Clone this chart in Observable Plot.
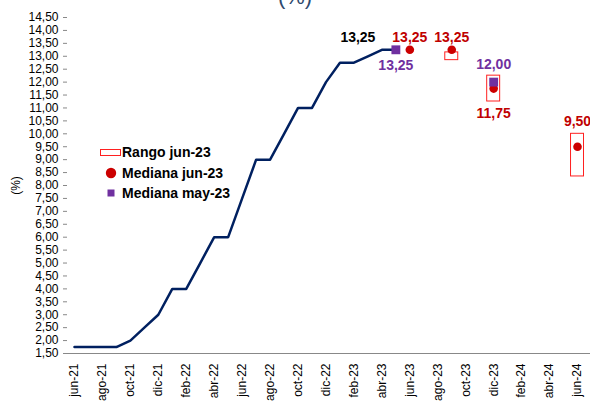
<!DOCTYPE html>
<html>
<head>
<meta charset="utf-8">
<script src="https://cdn.jsdelivr.net/npm/d3@7"></script>
<script src="https://cdn.jsdelivr.net/npm/@observablehq/plot@0.6"></script>
<style>
  html, body { margin: 0; padding: 0; background: #fff; }
  body { width: 590px; height: 403px; overflow: hidden; position: relative; font-family: Arial, "Liberation Sans", sans-serif; }
  #title { position: absolute; left: 0; width: 590px; top: -14px; text-align: center; font-size: 22px; line-height: 22px; color: #2f4a6e; }
  #legend { position: absolute; left: 99px; top: 142px; font-size: 14px; font-weight: bold; color: #000; }
  #legend .row { display: flex; align-items: center; height: 20.5px; }
  #legend .sw { width: 23px; display: flex; justify-content: center; align-items: center; }
  #chart { position: absolute; left: 0; top: 0; }
</style>
</head>
<body>
<div id="chart"></div>
<div id="title"><span>(%)</span></div>
<div id="legend">
  <div class="row"><div class="sw"><svg width="22" height="9"><rect x="0.5" y="1.5" width="20" height="6" fill="#fff" stroke="#ff2020" stroke-width="1"/></svg></div><span>Rango jun-23</span></div>
  <div class="row"><div class="sw"><svg width="12" height="12"><circle cx="6" cy="6" r="5.2" fill="#cc0000"/></svg></div><span>Mediana jun-23</span></div>
  <div class="row"><div class="sw"><svg width="10" height="10"><rect x="1.5" y="1.5" width="7" height="7" fill="#7030a0"/></svg></div><span>Mediana may-23</span></div>
</div>
<script>
const months = ["jun-21","jul-21","ago-21","sep-21","oct-21","nov-21","dic-21","ene-22","feb-22","mar-22","abr-22","may-22","jun-22","jul-22","ago-22","sep-22","oct-22","nov-22","dic-22","ene-23","feb-23","mar-23","abr-23","may-23","jun-23","jul-23","ago-23","sep-23","oct-23","nov-23","dic-23","ene-24","feb-24","mar-24","abr-24","may-24","jun-24"];
const tickLabels = months.filter((d, i) => i % 2 === 0);
const yTicks = [1.5,2,2.5,3,3.5,4,4.5,5,5.5,6,6.5,7,7.5,8,8.5,9,9.5,10,10.5,11,11.5,12,12.5,13,13.5,14,14.5];

const rateMonths = months.slice(0, 24);
const rateValues = [1.75,1.75,1.75,1.75,2.0,2.5,3.0,4.0,4.0,5.0,6.0,6.0,7.5,9.0,9.0,10.0,11.0,11.0,12.0,12.75,12.75,13.0,13.25,13.25];

const medJunMonths = ["jun-23","sep-23","dic-23","jun-24"];
const medJunValues = [13.25, 13.25, 11.75, 9.5];

const rangeMonths = ["sep-23","dic-23","jun-24"];
const rangeLow = [12.85, 11.25, 8.35];
const rangeHigh = [13.15, 12.25, 10.0];

const medMayMonths = ["may-23","dic-23"];
const medMayValues = [13.25, 12.0];

const fmt = v => v.toFixed(2).replace(".", ",");

const rate = rateMonths.map((m, i) => ({m, v: rateValues[i]}));
const medJun = medJunMonths.map((m, i) => ({m, v: medJunValues[i]}));
const ranges = rangeMonths.map((m, i) => ({m, lo: rangeLow[i], hi: rangeHigh[i]}));
const medMay = medMayMonths.map((m, i) => ({m, v: medMayValues[i]}));

const red = "#c00000";
const purple = "#7030a0";
const labelStyle = {fontSize: 14, fontWeight: "bold", text: d => fmt(d.v)};

const chart = Plot.plot({
  width: 590,
  height: 403,
  marginLeft: 67,
  marginRight: 0,
  marginTop: 17,
  marginBottom: 50,
  style: {fontFamily: "Arial, 'Liberation Sans', sans-serif", fontSize: "12px", color: "#000", background: "#fff"},
  x: {type: "band", domain: months, padding: 0, insetRight: 6},
  y: {domain: [1.5, 14.5]},
  marks: [
    Plot.axisY({ticks: yTicks, tickFormat: fmt, tickSize: 4, tickPadding: 5, stroke: "#888", fontSize: 12,
      label: "(%)", labelAnchor: "center", labelArrow: "none", labelOffset: 56}),
    Plot.axisX({ticks: tickLabels, tickSize: 0, tickRotate: -90, tickPadding: 10, fontSize: 12, label: null}),
    Plot.ruleX([0], {x: () => null, frameAnchor: "left", stroke: "#888"}),
    Plot.ruleY([1.5], {stroke: "#888"}),
    Plot.line(rate, {x: "m", y: "v", stroke: "#002060", strokeWidth: 2.5}),
    Plot.barY(ranges, {x: "m", y1: "lo", y2: "hi", fill: "#fff", stroke: "#ff2020", strokeWidth: 1, insetLeft: 0.5, insetRight: 0.5}),
    Plot.dot(medJun, {x: "m", y: "v", r: 4.3, fill: "#cc0000", stroke: "none"}),
    Plot.dot(medMay, {x: "m", y: "v", symbol: "square", r: 5, fill: purple, stroke: "none"}),
    Plot.text(rate.filter(d => d.m === "abr-23"), {x: "m", y: "v", ...labelStyle, fill: "#000", dx: -24, dy: -12}),
    Plot.text(medJun.filter(d => d.m === "jun-23" || d.m === "sep-23"), {x: "m", y: "v", ...labelStyle, fill: red, dy: -12}),
    Plot.text(medJun.filter(d => d.m === "dic-23"), {x: "m", y: "v", ...labelStyle, fill: red, dy: 25}),
    Plot.text(medJun.filter(d => d.m === "jun-24"), {x: "m", y: "v", ...labelStyle, fill: red, dy: -25}),
    Plot.text(medMay.filter(d => d.m === "may-23"), {x: "m", y: "v", ...labelStyle, fill: purple, dy: 16}),
    Plot.text(medMay.filter(d => d.m === "dic-23"), {x: "m", y: "v", ...labelStyle, fill: purple, dy: -18})
  ]
});
document.getElementById("chart").appendChild(chart);
</script>
</body>
</html>
